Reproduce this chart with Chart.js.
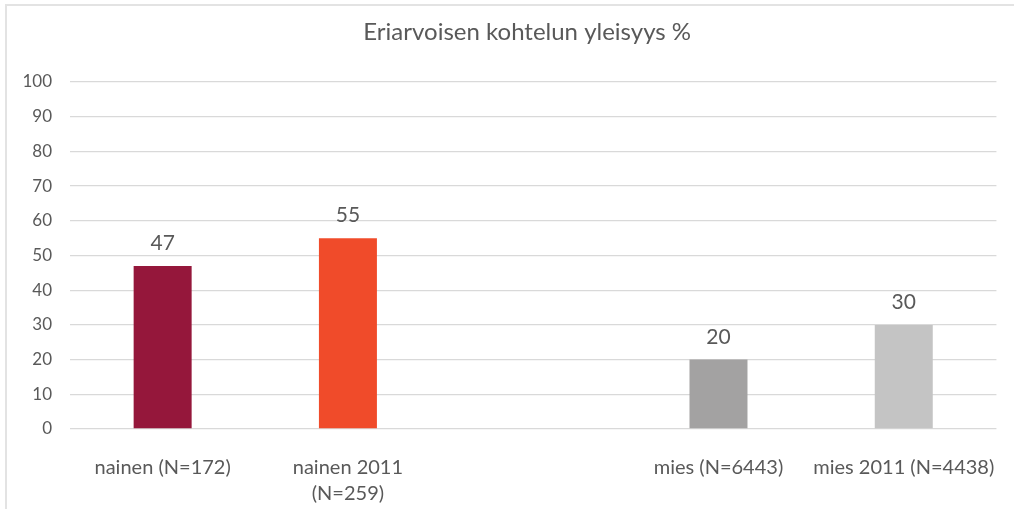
<!DOCTYPE html>
<html>
<head>
<meta charset="utf-8">
<script src="https://cdn.jsdelivr.net/npm/chart.js@4/dist/chart.umd.min.js"></script>
<style>
    html, body { margin: 0; padding: 0; background: #fff; overflow: hidden; }
    #wrap { position: relative; width: 1014px; height: 509px; }
    #frame {
        position: absolute; left: 5px; top: 4px; right: -10px; bottom: -10px;
        border: 2px solid #e3e3e3; pointer-events: none;
    }
</style>
</head>
<body>
<div id="wrap">
    <canvas id="myChart" width="1014" height="509"></canvas>
    <div id="frame"></div>
</div>
<script>
const chartTitle = 'Eriarvoisen kohtelun yleisyys %';
const categories = [
    'nainen (N=172)',
    ['nainen 2011', '(N=259)'],
    '',
    'mies (N=6443)',
    'mies 2011 (N=4438)'
];
const values = [47, 55, null, 20, 30];
const barColors = ['#95173b', '#f04b2a', '#ffffff', '#a3a2a2', '#c4c4c4'];
const yTicks = [0, 10, 20, 30, 40, 50, 60, 70, 80, 90, 100];

const textColor = '#595959';
const fontFamily = 'Lato, Carlito, "Liberation Sans", sans-serif';

// arvot palkkien yläpuolelle + otsikko kuva-alueen keskelle
const valueLabels = {
    id: 'valueLabels',
    afterDatasetsDraw(chart) {
        const ctx = chart.ctx;
        const meta = chart.getDatasetMeta(0);
        ctx.save();
        ctx.fillStyle = textColor;
        ctx.textAlign = 'center';
        ctx.textBaseline = 'alphabetic';
        ctx.font = '21px ' + fontFamily;
        meta.data.forEach((bar, i) => {
            const v = values[i];
            if (v === null || v === undefined) return;
            ctx.fillText(String(v), bar.x, bar.y - 16);
        });
        const area = chart.chartArea;
        ctx.font = '24px ' + fontFamily;
        ctx.textBaseline = 'middle';
        ctx.fillText(chartTitle, (area.left + area.right) / 2 - 6, 32);
        ctx.restore();
    }
};

document.addEventListener("DOMContentLoaded", function() {
    const ctx = document.getElementById('myChart').getContext('2d');

    const config = {
        type: 'bar',
        data: {
            labels: categories,
            datasets: [{
                data: values,
                backgroundColor: barColors,
                barPercentage: 0.313,
                categoryPercentage: 1.0
            }]
        },
        options: {
            responsive: false,
            animation: false,
            layout: { padding: { left: 0, right: 17, top: 82, bottom: 0 } },
            scales: {
                x: {
                    grid: { display: false },
                    border: { display: false },
                    ticks: {
                        color: textColor,
                        padding: 18,
                        maxRotation: 0,
                        autoSkip: false,
                        font: { family: fontFamily, size: 20, lineHeight: 1.3 }
                    },
                    afterFit: (scale) => { scale.height = 80; }
                },
                y: {
                    min: 0,
                    max: 100,
                    afterBuildTicks: (scale) => {
                        scale.ticks = yTicks.map(v => ({ value: v }));
                    },
                    grid: {
                        color: '#d9d9d9',
                        lineWidth: 1.3,
                        drawTicks: false
                    },
                    border: { display: false },
                    ticks: {
                        color: textColor,
                        padding: 18,
                        font: { family: fontFamily, size: 17 }
                    },
                    afterFit: (scale) => { scale.width = 70; }
                }
            },
            plugins: {
                legend: { display: false },
                tooltip: { enabled: false },
                title: { display: false }
            }
        },
        plugins: [valueLabels]
    };

    const myChart = new Chart(ctx, config);
});
</script>
</body>
</html>
